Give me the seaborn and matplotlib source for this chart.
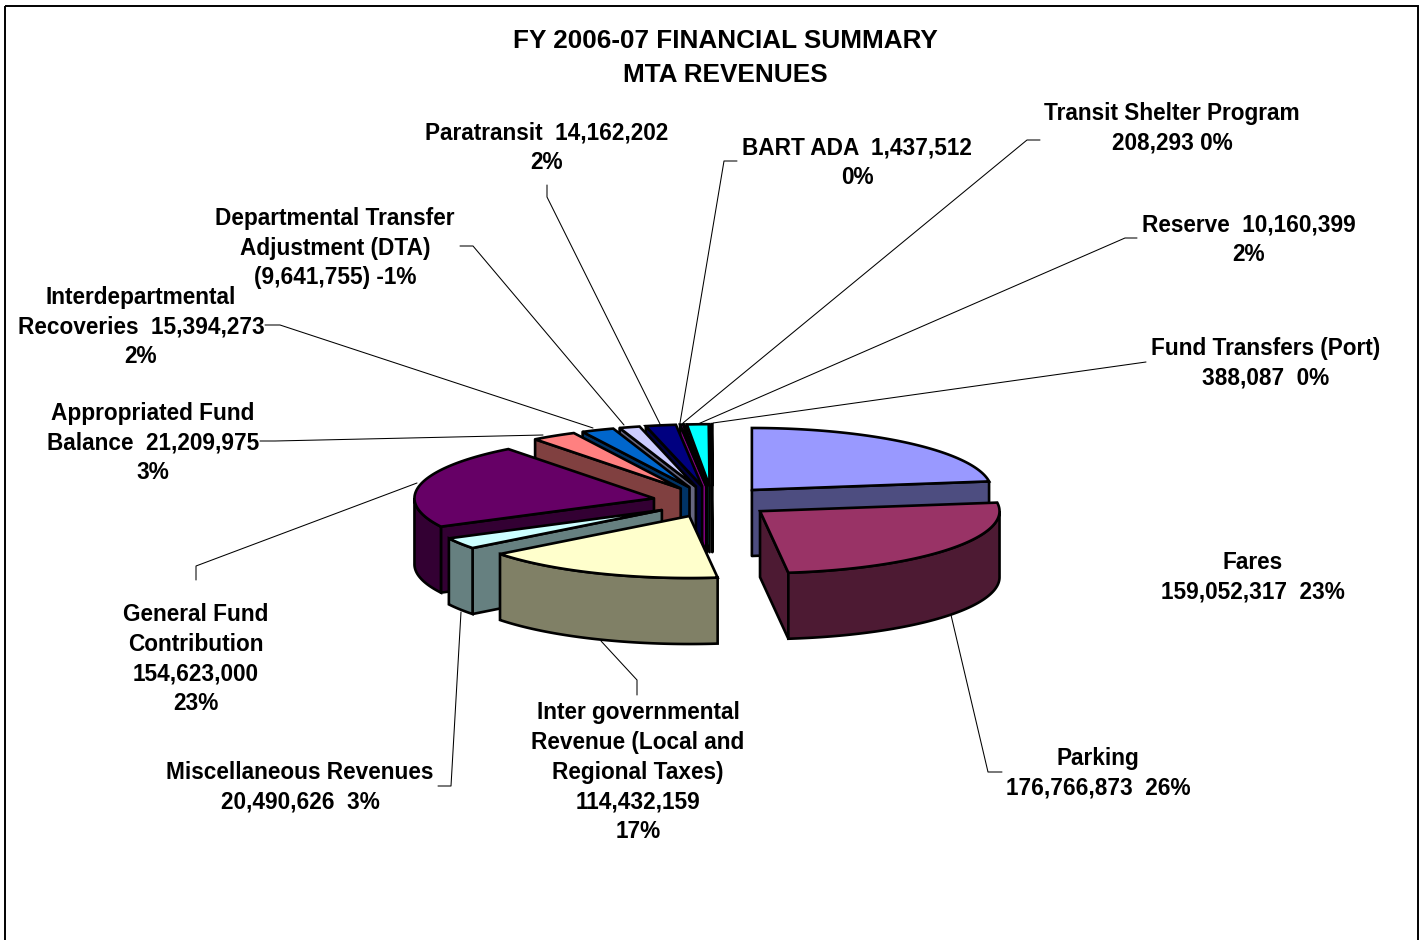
import numpy as np
import matplotlib
matplotlib.use("Agg")
import matplotlib.pyplot as plt
from matplotlib.patches import Rectangle
import pandas as pd
import seaborn as sns

# DATA
categories = ["Fares", "Parking", "Inter governmental", "Miscellaneous Revenues",
              "General Fund Contribution", "Appropriated Fund Balance",
              "Interdepartmental Recoveries", "Departmental Transfer Adjustment",
              "Paratransit", "BART ADA", "Transit Shelter Program", "Reserve",
              "Fund Transfers (Port)"]
# DTA is negative in the source, the pie slice uses its size
amounts = [159052317, 176766873, 114432159, 20490626, 154623000, 21209975,
           15394273, 9641755, 14162202, 1437512, 208293, 10160399, 388087]
colours = ["#9999FF", "#993366", "#FFFFCC", "#CCFFFF", "#660066", "#FF8080",
           "#0066CC", "#CCCCFF", "#000080", "#FF00FF", "#FFFF00", "#00FFFF",
           "#800080"]
title_text = "FY 2006-07 FINANCIAL SUMMARY\nMTA REVENUES"
label_texts = ["Fares\n159,052,317  23%",
               "Parking\n176,766,873  26%",
               "Inter governmental\nRevenue (Local and\nRegional Taxes)\n114,432,159\n17%",
               "Miscellaneous Revenues\n20,490,626  3%",
               "General Fund\nContribution\n154,623,000\n23%",
               "Appropriated Fund\nBalance  21,209,975\n3%",
               "Interdepartmental\nRecoveries  15,394,273\n2%",
               "Departmental Transfer\nAdjustment (DTA)\n(9,641,755) -1%",
               "Paratransit  14,162,202\n2%",
               "BART ADA  1,437,512\n0%",
               "Transit Shelter Program\n208,293 0%",
               "Reserve  10,160,399\n2%",
               "Fund Transfers (Port)\n388,087  0%"]

# label centres in pixels
label_x = [1253, 1098, 638, 300, 196, 153, 141, 335, 547, 857, 1172, 1249, 1266]
label_y = [577, 773, 772, 787, 659, 443, 327, 248, 148, 163, 128, 240, 363]

# leader lines in pixels, Fares has none
leaders = [[(1002, 772), (988, 772), (951, 615)],
           [(637, 695), (637, 680), (601, 641)],
           [(438, 786), (451, 786), (461, 612)],
           [(196, 580), (196, 566), (417, 483)],
           [(260, 441), (275, 441), (543, 435)],
           [(265, 325), (280, 325), (593, 428)],
           [(460, 246), (473, 246), (624, 425)],
           [(547, 185), (547, 197), (660, 424)],
           [(737, 161), (724, 161), (680, 423)],
           [(1040, 140), (1027, 140), (683, 423)],
           [(1137, 238), (1125, 238), (698, 424)],
           [(1146, 362), (713, 423)]]

# pie geometry in pixels
cx, cy = 712.5, 501.7
rx, ry = 239.5, 62
depth = 66
explode = 60
lw = 1.9

sns.set_theme(style="white")
plt.rcParams["font.family"] = ["Liberation Sans", "DejaVu Sans"]
plt.rcParams["font.weight"] = "bold"

fig, ax = plt.subplots(figsize=(14.24, 9.4), dpi=100)
ax.set_position([0, 0, 1, 1])
ax.set_xlim(0, 1424)
ax.set_ylim(940, 0)
ax.axis("off")

# outer frame, runs off the bottom of the picture
ax.add_patch(Rectangle((5, 6), 1413, 960, fill=False, ec="black", lw=1.4, clip_on=True))

palette = sns.color_palette(colours)
sizes = np.array(amounts, dtype=float)
edges = np.concatenate([[0], np.cumsum(sizes)]) / sizes.sum() * 360


def arc(ax0, ay0, t0, t1, shift=0):
    t = np.radians(np.linspace(t0, t1, max(int(abs(t1 - t0)) * 2, 2)))
    return ax0 + rx * np.sin(t), ay0 - ry * np.cos(t) + shift


def wall(ax0, ay0, t, col):
    x1, y1 = ax0 + rx * np.sin(np.radians(t)), ay0 - ry * np.cos(np.radians(t))
    ax.fill([ax0, x1, x1, ax0], [ay0, y1, y1 + depth, ay0 + depth],
            fc=col, ec="black", lw=lw, joinstyle="round")


# draw back slices first
mids = (edges[:-1] + edges[1:]) / 2
for i in np.argsort(-np.cos(np.radians(mids))):
    t0, t1, mid = edges[i], edges[i + 1], mids[i]
    ax0 = cx + explode * np.sin(np.radians(mid))
    ay0 = cy - explode * ry / rx * np.cos(np.radians(mid))
    top = palette[i]
    dark = tuple(c * 0.5 for c in top)
    # cut faces that look toward the viewer
    if np.sin(np.radians(t1)) > 0:
        wall(ax0, ay0, t1, dark)
    if np.sin(np.radians(t0)) < 0:
        wall(ax0, ay0, t0, dark)
    # outer rim, only the front half shows
    r0, r1 = max(t0, 90), min(t1, 270)
    if r1 > r0:
        xa, ya = arc(ax0, ay0, r0, r1)
        xb, yb = arc(ax0, ay0, r0, r1, depth)
        ax.fill(np.r_[xa, xb[::-1]], np.r_[ya, yb[::-1]], fc=dark, ec="black", lw=lw)
    xa, ya = arc(ax0, ay0, t0, t1)
    ax.fill(np.r_[ax0, xa], np.r_[ay0, ya], fc=top, ec="black", lw=lw)

for n, pts in enumerate(leaders):
    line = pd.DataFrame(pts, columns=["x", "y"])
    sns.lineplot(data=line, x="x", y="y", sort=False, estimator=None, color="black",
                 lw=0.75, ax=ax, legend=False)
ax.set_xlim(0, 1424)
ax.set_ylim(940, 0)
ax.axis("off")

for txt, x, y in zip(label_texts, label_x, label_y):
    ax.text(x, y, txt, ha="center", va="center", multialignment="center",
            fontsize=16.3, fontweight="bold", color="black", linespacing=1.365)

ax.text(725, 58, title_text, ha="center", va="center", multialignment="center",
        fontsize=18.8, fontweight="bold", color="black", linespacing=1.5)

fig.savefig("out.png", dpi=100, facecolor="white")
